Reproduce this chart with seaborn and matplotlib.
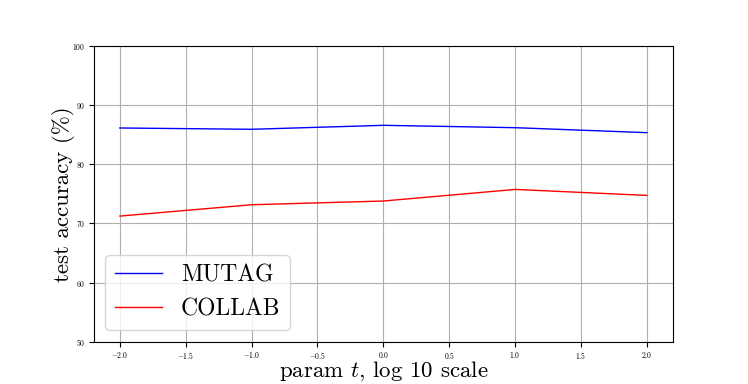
import numpy as np
import pandas as pd
import matplotlib
matplotlib.use('Agg')
import matplotlib.pyplot as plt
import seaborn as sns

# Data
log_t = [-2.0, -1.0, 0.0, 1.0, 2.0]
mutag_acc = [86.15, 85.93, 86.6, 86.2, 85.36]
collab_acc = [71.25, 73.17, 73.8, 75.76, 74.75]
dataset_names = ['MUTAG', 'COLLAB']

df = pd.DataFrame({
    'log_t': log_t * 2,
    'acc': mutag_acc + collab_acc,
    'dataset': [dataset_names[0]] * len(log_t) + [dataset_names[1]] * len(log_t),
})

matplotlib.rcParams['font.family'] = 'cmr10'
matplotlib.rcParams['mathtext.fontset'] = 'cm'
matplotlib.rcParams['axes.formatter.use_mathtext'] = True
matplotlib.rcParams['axes.unicode_minus'] = True

fig, ax = plt.subplots(figsize=(7.48, 3.84), dpi=100)
sns.lineplot(ax=ax, data=df, x='log_t', y='acc', hue='dataset',
             palette={'MUTAG': 'blue', 'COLLAB': 'red'}, linewidth=1.0)

ax.set_ylim(50, 100)
ax.set_xlim(-2.2, 2.2)
ax.set_xticks(np.arange(-2.0, 2.01, 0.5))
ax.grid(True)
ax.tick_params(labelsize=5.5, pad=2.5)
ax.set_xlabel('param $t$, log 10 scale', fontsize=16.5, labelpad=-1)
ax.set_ylabel('test accuracy (%)', fontsize=16.5, labelpad=-2)
ax.legend(loc='lower left', fontsize=17, title=None)

plt.savefig('out.png', dpi=100)
